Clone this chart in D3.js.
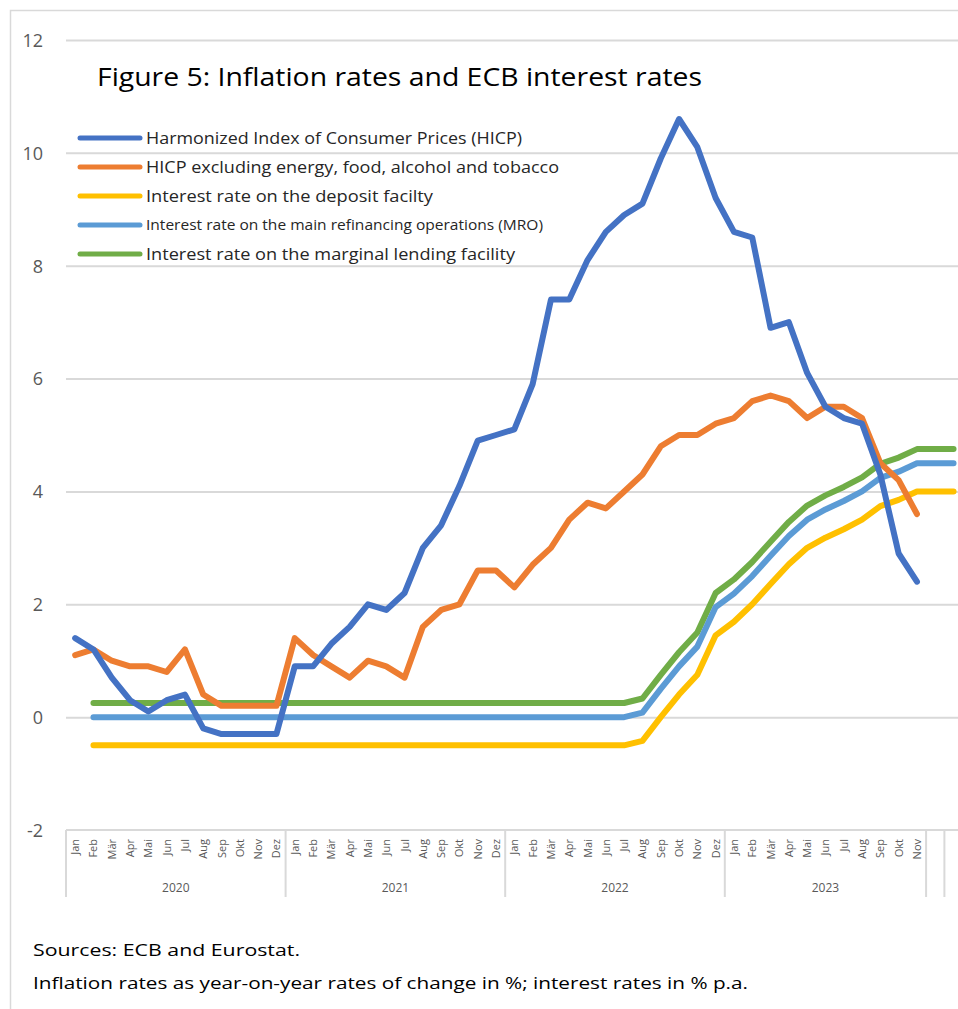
<!DOCTYPE html>
<html lang="en">

<head>
    <meta charset="utf-8">
    <title>Figure 5: Inflation rates and ECB interest rates</title>
    <script type="text/javascript" src="https://d3js.org/d3.v7.min.js"></script>

    <style type="text/css">
        body { margin: 0; background: #fff; }
        svg { display: block; font-family: "Open Sans", "Noto Sans", sans-serif; }
    </style>
</head>

<body>
    <script type="text/javascript">
        // data
        var years = ["2020", "2021", "2022", "2023"];
        var monthNames = ["Jan", "Feb", "Mär", "Apr", "Mai", "Jun", "Jul", "Aug", "Sep", "Okt", "Nov", "Dez"];
        var yTicks = [-2, 0, 2, 4, 6, 8, 10, 12];

        // HICP, Jan 2020 - Nov 2023
        var hicp = [1.4, 1.2, 0.7, 0.3, 0.1, 0.3, 0.4, -0.2, -0.3, -0.3, -0.3, -0.3,
            0.9, 0.9, 1.3, 1.6, 2.0, 1.9, 2.2, 3.0, 3.4, 4.1, 4.9, 5.0,
            5.1, 5.9, 7.4, 7.4, 8.1, 8.6, 8.9, 9.1, 9.9, 10.6, 10.1, 9.2,
            8.6, 8.5, 6.9, 7.0, 6.1, 5.5, 5.3, 5.2, 4.3, 2.9, 2.4];
        // core HICP, Jan 2020 - Nov 2023
        var core = [1.1, 1.2, 1.0, 0.9, 0.9, 0.8, 1.2, 0.4, 0.2, 0.2, 0.2, 0.2,
            1.4, 1.1, 0.9, 0.7, 1.0, 0.9, 0.7, 1.6, 1.9, 2.0, 2.6, 2.6,
            2.3, 2.7, 3.0, 3.5, 3.8, 3.7, 4.0, 4.3, 4.8, 5.0, 5.0, 5.2,
            5.3, 5.6, 5.7, 5.6, 5.3, 5.5, 5.5, 5.3, 4.5, 4.2, 3.6];
        // interest rates start one month later (Feb 2020) and run two months past Nov 2023
        var rateStart = 1;
        var deposit = [-0.5, -0.5, -0.5, -0.5, -0.5, -0.5, -0.5, -0.5, -0.5, -0.5, -0.5,
            -0.5, -0.5, -0.5, -0.5, -0.5, -0.5, -0.5, -0.5, -0.5, -0.5, -0.5, -0.5, -0.5,
            -0.5, -0.5, -0.5, -0.5, -0.5, -0.5, -0.42, 0.0, 0.4, 0.75, 1.45,
            1.69, 2.0, 2.36, 2.71, 3.0, 3.18, 3.33, 3.5, 3.74, 3.85, 4.0, 4.0, 4.0];
        var mro = [0, 0, 0, 0, 0, 0, 0, 0, 0, 0, 0,
            0, 0, 0, 0, 0, 0, 0, 0, 0, 0, 0, 0, 0,
            0, 0, 0, 0, 0, 0, 0.08, 0.5, 0.9, 1.25, 1.95,
            2.19, 2.5, 2.86, 3.21, 3.5, 3.68, 3.83, 4.0, 4.24, 4.35, 4.5, 4.5, 4.5];
        var mlf = [0.25, 0.25, 0.25, 0.25, 0.25, 0.25, 0.25, 0.25, 0.25, 0.25, 0.25,
            0.25, 0.25, 0.25, 0.25, 0.25, 0.25, 0.25, 0.25, 0.25, 0.25, 0.25, 0.25, 0.25,
            0.25, 0.25, 0.25, 0.25, 0.25, 0.25, 0.33, 0.75, 1.15, 1.5, 2.2,
            2.44, 2.75, 3.11, 3.46, 3.75, 3.93, 4.08, 4.25, 4.49, 4.6, 4.75, 4.75, 4.75];

        var seriesNames = ["Harmonized Index of Consumer Prices (HICP)",
            "HICP excluding energy, food, alcohol and tobacco",
            "Interest rate on the deposit facilty",
            "Interest rate on the main refinancing operations (MRO)",
            "Interest rate on the marginal lending facility"];
        var colors = ["#4472C4", "#ED7D31", "#FFC000", "#5B9BD5", "#70AD47"];

        // category list: 47 labelled months plus two blank ones
        var categories = [];
        years.forEach(function(y) {
            monthNames.forEach(function(m) {
                if (categories.length < 47) categories.push({ month: m, year: y });
            });
        });
        categories.push({ month: "", year: "" }, { month: "", year: "" });

        var width = 958, height = 1009;
        var left = 66, step = 18.3;

        var svg = d3.select("body")
            .append("svg")
            .attr("width", width)
            .attr("height", height);

        svg.append("rect")
            .attr("width", width).attr("height", height)
            .attr("fill", "#fff");

        // chart border (runs off the right/bottom of the crop)
        svg.append("rect")
            .attr("x", 10.5).attr("y", 10.5)
            .attr("width", 1100).attr("height", 1100)
            .attr("fill", "none")
            .attr("stroke", "#d9d9d9")
            .attr("stroke-width", 1.5);

        var x = d3.scaleBand()
            .domain(d3.range(categories.length))
            .range([left, left + step * categories.length]);

        var y = d3.scaleLinear()
            .domain([-2, 12])
            .range([830, 40]);

        // gridlines
        svg.append("g")
            .attr("transform", "translate(" + left + ",0)")
            .call(d3.axisLeft(y).tickValues(yTicks.filter(function(t) { return t > -2; }))
                .tickSize(-(width - left)).tickFormat(""))
            .call(function(g) {
                g.select(".domain").remove();
                g.selectAll("line").attr("stroke", "#d9d9d9").attr("stroke-width", 2);
            });

        // y tick labels (plain hyphen for negatives, as in the original)
        svg.append("g")
            .attr("transform", "translate(43,0)")
            .call(d3.axisLeft(y).tickValues(yTicks).tickSize(0).tickPadding(0)
                .tickFormat(function(d) { return String(d); }))
            .call(function(g) {
                g.select(".domain").remove();
                g.selectAll("text")
                    .attr("font-family", "Open Sans, sans-serif")
                    .attr("font-size", 18)
                    .attr("fill", "#595959")
                    .attr("dy", "0.35em");
            });

        // category axis box
        var axisTop = y(-2);
        svg.append("line")
            .attr("x1", left).attr("x2", width)
            .attr("y1", axisTop).attr("y2", axisTop)
            .attr("stroke", "#d9d9d9").attr("stroke-width", 2);

        var seps = [0, 12, 24, 36, 47, 48, 49];
        svg.append("g").selectAll("line")
            .data(seps)
            .enter()
            .append("line")
            .attr("x1", function(d) { return left + d * step; })
            .attr("x2", function(d) { return left + d * step; })
            .attr("y1", axisTop)
            .attr("y2", 897)
            .attr("stroke", "#d9d9d9")
            .attr("stroke-width", 2);

        // month labels
        svg.append("g").selectAll("text")
            .data(categories)
            .enter()
            .append("text")
            .attr("transform", function(d, i) {
                return "translate(" + (x(i) + x.bandwidth() / 2 + 4) + "," + (axisTop + 9) + ") rotate(-90)";
            })
            .attr("text-anchor", "end")
            .attr("font-family", "Open Sans, sans-serif")
            .attr("font-size", 11)
            .attr("fill", "#595959")
            .text(function(d) { return d.month; });

        // year labels
        svg.append("g").selectAll("text")
            .data(years)
            .enter()
            .append("text")
            .attr("x", function(d, i) {
                var a = i * 12, b = Math.min(i * 12 + 12, 47);
                return left + (a + b) / 2 * step;
            })
            .attr("y", 892)
            .attr("text-anchor", "middle")
            .attr("font-family", "Open Sans, sans-serif")
            .attr("font-size", 12)
            .attr("fill", "#595959")
            .text(function(d) { return d; });

        // lines
        var line = d3.line()
            .x(function(d) { return x(d.i) + x.bandwidth() / 2; })
            .y(function(d) { return y(d.v); });

        function pts(arr, start) {
            return arr.map(function(v, k) { return { i: k + start, v: v }; });
        }

        var series = [
            { data: pts(mlf, rateStart), c: colors[4] },
            { data: pts(mro, rateStart), c: colors[3] },
            { data: pts(deposit, rateStart), c: colors[2] },
            { data: pts(core, 0), c: colors[1] },
            { data: pts(hicp, 0), c: colors[0] }
        ];

        svg.append("g").selectAll("path")
            .data(series)
            .enter()
            .append("path")
            .attr("d", function(d) { return line(d.data); })
            .attr("fill", "none")
            .attr("stroke", function(d) { return d.c; })
            .attr("stroke-width", 6)
            .attr("stroke-linejoin", "round")
            .attr("stroke-linecap", "round");

        // title
        svg.append("text")
            .attr("x", 97).attr("y", 86)
            .attr("font-family", "Open Sans, sans-serif")
            .attr("font-size", 26)
            .attr("fill", "#000")
            .attr("textLength", 605)
            .attr("lengthAdjust", "spacingAndGlyphs")
            .text("Figure 5: Inflation rates and ECB interest rates");

        // legend
        var legendW = [376, 413, 287, 397, 369];
        var legend = svg.append("g").selectAll("g")
            .data(seriesNames)
            .enter()
            .append("g")
            .attr("transform", function(d, i) { return "translate(0," + (138 + i * 29) + ")"; });

        legend.append("line")
            .attr("x1", 80).attr("x2", 140)
            .attr("stroke", function(d, i) { return colors[i]; })
            .attr("stroke-width", 5)
            .attr("stroke-linecap", "round");

        legend.append("text")
            .attr("x", 146)
            .attr("dy", "0.35em")
            .attr("font-family", "Open Sans, sans-serif")
            .attr("font-size", function(d, i) { return i === 3 ? 14 : 17; })
            .attr("fill", "#262626")
            .attr("textLength", function(d, i) { return legendW[i]; })
            .attr("lengthAdjust", "spacingAndGlyphs")
            .text(function(d) { return d; });

        // footnote
        var notes = ["Sources: ECB and Eurostat.",
            "Inflation rates as year-on-year rates of change in %; interest rates in % p.a."];
        var noteW = [267, 715];
        svg.append("g").selectAll("text")
            .data(notes)
            .enter()
            .append("text")
            .attr("x", 33)
            .attr("y", function(d, i) { return 956 + i * 33; })
            .attr("font-family", "Open Sans, sans-serif")
            .attr("font-size", 17)
            .attr("fill", "#000")
            .attr("textLength", function(d, i) { return noteW[i]; })
            .attr("lengthAdjust", "spacingAndGlyphs")
            .text(function(d) { return d; });
    </script>
</body>

</html>
